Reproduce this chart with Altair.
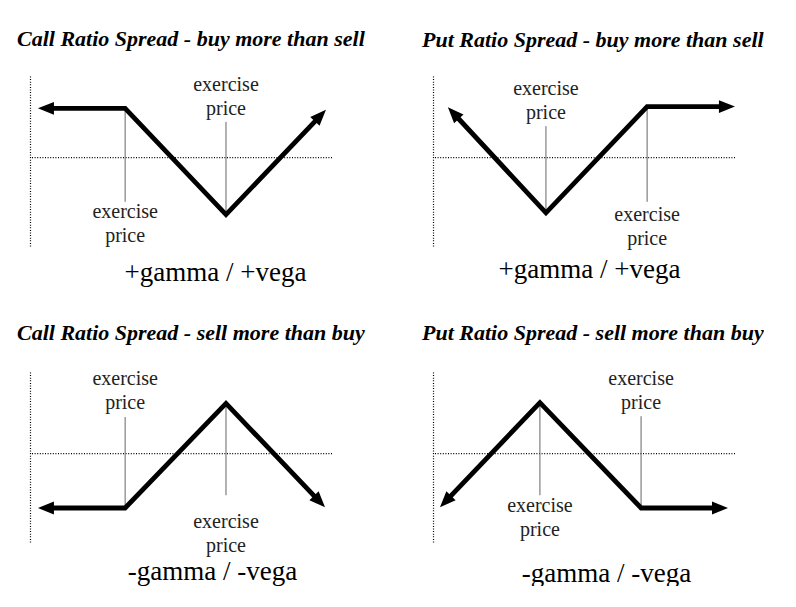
import math
import altair as alt
import pandas as pd

# ---------------- data (abstract price / payoff units) ----------------
TITLES = [
    "Call Ratio Spread - buy more than sell",
    "Put Ratio Spread - buy more than sell",
    "Call Ratio Spread - sell more than buy",
    "Put Ratio Spread - sell more than buy",
]
GREEKS = ["+gamma / +vega", "+gamma / +vega", "-gamma / -vega", "-gamma / -vega"]
STRIKE_LABEL = "exercise price"

# payoff polyline vertices, left to right (first and last carry arrowheads)
call_buy_price = [5.8, 31.5, 64.9, 95.8]
call_buy_payoff = [5.8, 5.8, -6.7, 4.8]
put_buy_price = [7.1, 37.4, 70.9, 96.8]
put_buy_payoff = [5.1, -6.5, 6.0, 6.0]
call_sell_price = [5.8, 31.5, 64.9, 95.5]
call_sell_payoff = [-6.4, -6.4, 5.9, -5.5]
put_sell_price = [4.5, 35.4, 68.9, 94.5]
put_sell_payoff = [-5.5, 6.0, -6.4, -6.4]

# exercise prices, payoff at the strike, end of the guide line, level of its label
call_buy_strike = [31.5, 64.9]
call_buy_kink = [5.8, -6.7]
call_buy_guide_end = [-5.2, 4.2]
call_buy_label_at = [-7.05, 7.8]
put_buy_strike = [37.4, 70.9]
put_buy_kink = [-6.5, 6.0]
put_buy_guide_end = [3.7, -5.2]
put_buy_label_at = [7.4, -7.5]
call_sell_strike = [31.5, 64.9]
call_sell_kink = [-6.4, 5.9]
call_sell_guide_end = [4.3, -4.9]
call_sell_label_at = [8.1, -8.7]
put_sell_strike = [35.4, 68.9]
put_sell_kink = [6.0, -6.4]
put_sell_guide_end = [-4.9, 4.4]
put_sell_label_at = [-6.9, 8.1]

PRICES = [call_buy_price, put_buy_price, call_sell_price, put_sell_price]
PAYOFFS = [call_buy_payoff, put_buy_payoff, call_sell_payoff, put_sell_payoff]
STRIKES = [call_buy_strike, put_buy_strike, call_sell_strike, put_sell_strike]
KINKS = [call_buy_kink, put_buy_kink, call_sell_kink, put_sell_kink]
GUIDE_ENDS = [call_buy_guide_end, put_buy_guide_end, call_sell_guide_end, put_sell_guide_end]
LABEL_AT = [call_buy_label_at, put_buy_label_at, call_sell_label_at, put_sell_label_at]

# ---------------- layout / style ----------------
W, H = 302, 170
X_DOM = [0, 100]
Y_DOM = [-10.4, 9.6]
SERIF = "Liberation Serif"
TITLE_DX = [-13, -11, -13, -11]
TITLE_OFFSET = [7, 7, 7, 7]
GREEK_X = [185, 156, 182, 173]
GREEK_Y = [34, 31, 37, 39]
ARROW = "M0,-1.2L0.8,0.8L-0.8,0.8Z"


def heading(u0, v0, u1, v1):
    dx = (u1 - u0) * W / (X_DOM[1] - X_DOM[0])
    dy = -(v1 - v0) * H / (Y_DOM[1] - Y_DOM[0])
    return math.degrees(math.atan2(dx, -dy)) % 360


def panel(i):
    xs, ys = PRICES[i], PAYOFFS[i]
    x_axis = alt.Axis(domain=False, ticks=False, labels=False, grid=False,
                      title=GREEKS[i], titleFont=SERIF, titleFontSize=27,
                      titleFontWeight="normal", titleColor="black",
                      titleX=GREEK_X[i], titleY=GREEK_Y[i],
                      titleBaseline="alphabetic", titleAlign="center")
    y_axis = alt.Axis(domain=True, domainDash=[1, 1.6], domainColor="black",
                      domainWidth=1.2, ticks=False, labels=False, grid=False,
                      title=None)
    yscale = alt.Scale(domain=Y_DOM, nice=False, zero=False)
    xe = alt.X("price:Q", scale=alt.Scale(domain=X_DOM, nice=False, zero=False), axis=x_axis)
    ye = alt.Y("payoff:Q", scale=yscale, axis=y_axis)

    line_df = pd.DataFrame({"price": xs, "payoff": ys, "order": list(range(len(xs)))})
    ends_df = pd.DataFrame({
        "price": [xs[0], xs[-1]],
        "payoff": [ys[0], ys[-1]],
        "angle": [heading(xs[1], ys[1], xs[0], ys[0]),
                  heading(xs[-2], ys[-2], xs[-1], ys[-1])],
    })
    g_df = pd.DataFrame({"price": STRIKES[i], "payoff": KINKS[i],
                         "payoff2": GUIDE_ENDS[i], "label_at": LABEL_AT[i],
                         "label": STRIKE_LABEL})

    zero = alt.Chart(pd.DataFrame({"payoff": [0.0]})).mark_rule(
        color="black", strokeWidth=1.2, strokeDash=[1, 1.6]).encode(y=ye)
    guides = alt.Chart(g_df).mark_rule(color="#666", strokeWidth=1).encode(
        x=xe, y=ye, y2=alt.Y2("payoff2:Q"))
    line = alt.Chart(line_df).mark_line(
        color="black", strokeWidth=4.8, strokeJoin="miter", strokeCap="butt").encode(
        x=xe, y=ye, order="order:Q")
    heads = alt.Chart(ends_df).mark_point(
        shape=ARROW, filled=True, size=256, color="black", opacity=1, strokeWidth=0).encode(
        x=xe, y=ye, angle=alt.Angle("angle:Q", scale=None))
    labels = alt.Chart(g_df).mark_text(
        font=SERIF, fontSize=20, lineHeight=24, lineBreak=" ", color="#222",
        baseline="alphabetic").encode(
        x=xe, y=alt.Y("label_at:Q", scale=yscale, axis=y_axis), text="label:N")

    return alt.layer(zero, guides, line, heads, labels).properties(
        width=W, height=H,
        title=alt.TitleParams(TITLES[i], anchor="start", frame="group", dx=TITLE_DX[i],
                              offset=TITLE_OFFSET[i], baseline="alphabetic",
                              font=SERIF, fontSize=22, fontStyle="italic",
                              fontWeight="bold", color="black"))


chart = alt.concat(
    *[panel(i) for i in range(4)],
    columns=2,
    spacing=alt.RowColnumber(row=126, column=101),
    bounds="flush",
).properties(
    padding={"left": 17, "top": 28, "right": 0, "bottom": 0},
    background="white",
).configure_view(stroke=None)

chart.save("out.html", embed_options={"renderer": "svg", "actions": False})
